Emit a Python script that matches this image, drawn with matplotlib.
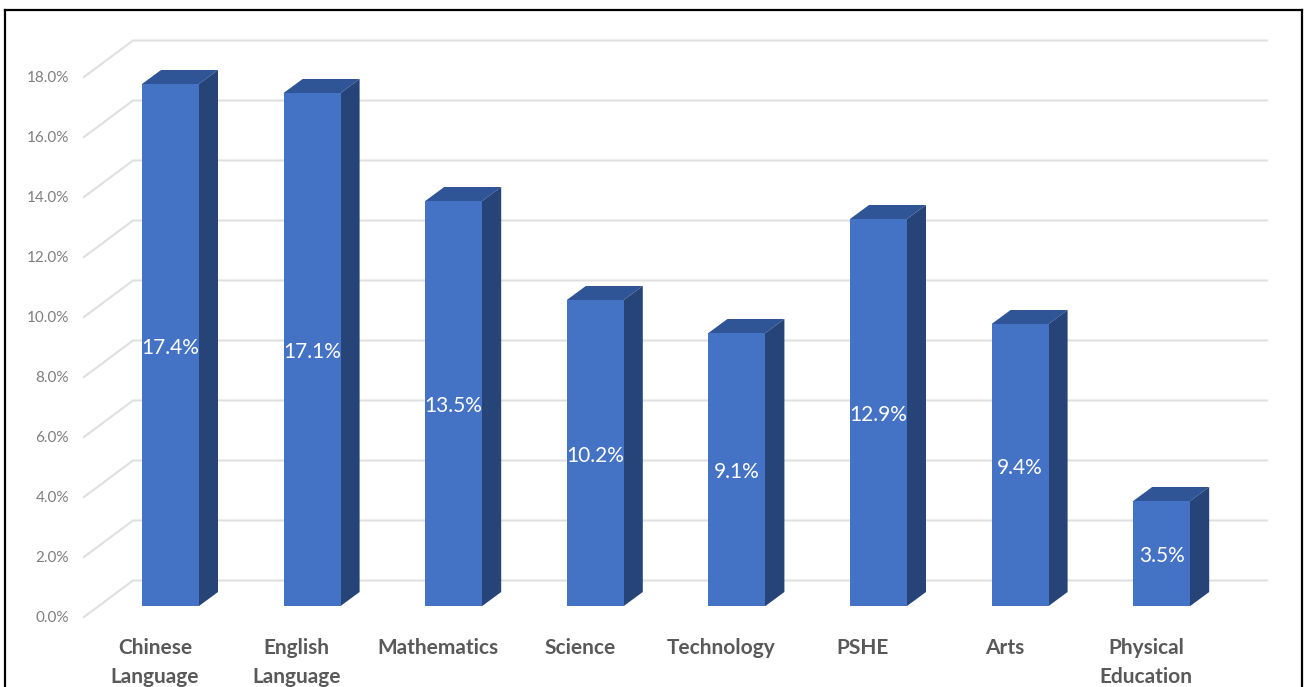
import numpy as np
import matplotlib
matplotlib.use("Agg")
import matplotlib.pyplot as plt
from matplotlib.lines import Line2D
from matplotlib.patches import Polygon

categories = [
    "Chinese\nLanguage",
    "English\nLanguage",
    "Mathematics",
    "Science",
    "Technology",
    "PSHE",
    "Arts",
    "Physical\nEducation",
]
values = [17.4, 17.1, 13.5, 10.2, 9.1, 12.9, 9.4, 3.5]
value_labels = ["17.4%", "17.1%", "13.5%", "10.2%", "9.1%", "12.9%", "9.4%", "3.5%"]
ticks = [0, 2, 4, 6, 8, 10, 12, 14, 16, 18]

W, H = 1305, 687
# pixel scale of the data axes
px_x = 141.6
px_y = 30.0
x0_px, y0_px = 170.5, 606.0

FRONT = "#4472C4"
TOP = "#2F5597"
SIDE = "#264478"
GRID = "#E0E0E0"

plt.rcParams["font.family"] = ["Lato", "DejaVu Sans"]

fig = plt.figure(figsize=(W / 100, H / 100), dpi=100, facecolor="white")
ax = fig.add_axes([0, 0, 1, 1])
ax.set_xlim(-x0_px / px_x, (W - x0_px) / px_x)
ax.set_ylim((y0_px - H) / px_y, y0_px / px_y)
ax.axis("off")

bar_w = 57 / px_x
bar_dx = 19 / px_x
bar_dy = 14 / px_y

# back wall gridlines and their slanted floor runs
grid_left = (84 - x0_px) / px_x
grid_back = (133 - x0_px) / px_x
grid_right = (1267 - x0_px) / px_x
for t in ticks:
    ax.plot(
        [grid_left, grid_back, grid_right],
        [t - 11 / px_y, t + 25.5 / px_y, t + 25.5 / px_y],
        color=GRID,
        lw=1.5,
        zorder=1,
        solid_joinstyle="miter",
    )
    ax.text(
        (69 - x0_px) / px_x,
        t - 11 / px_y,
        f"{t:.1f}%",
        ha="right",
        va="center_baseline",
        fontsize=11,
        color="#7F7F7F",
    )

xs = np.arange(len(values))
ax.bar(xs, values, width=bar_w, color=FRONT, zorder=3)
for x, v, lab, cat in zip(xs, values, value_labels, categories):
    l, r = x - bar_w / 2, x + bar_w / 2
    overlap = 1 / px_x
    ax.add_patch(
        Polygon(
            [(l, v), (r, v), (r + bar_dx, v + bar_dy), (l + bar_dx, v + bar_dy)],
            closed=True,
            facecolor=TOP,
            edgecolor="none",
            zorder=2.5,
        )
    )
    ax.add_patch(
        Polygon(
            [
                (r - overlap, 0),
                (r, 0),
                (r + bar_dx, bar_dy),
                (r + bar_dx, v + bar_dy),
                (r, v),
                (r - overlap, v),
            ],
            closed=True,
            facecolor=SIDE,
            edgecolor="none",
            zorder=2.6,
        )
    )
    ax.text(
        x,
        v / 2 - 1 / px_y,
        lab,
        ha="center",
        va="center_baseline",
        fontsize=15,
        color="white",
        zorder=4,
    )
    ax.text(
        x - 15.5 / px_x,
        (y0_px - 638) / px_y,
        cat,
        ha="center",
        va="top",
        fontsize=15,
        fontweight="bold",
        color="#595959",
        linespacing=1.55,
    )

# black picture frame, open at the bottom
for xy in [
    ([5.5, 5.5], [H, 9.5]),
    ([5.5, 1301.5], [9.5, 9.5]),
    ([1301.5, 1301.5], [9.5, H]),
]:
    fig.add_artist(
        Line2D(
            [p / W for p in xy[0]],
            [1 - p / H for p in xy[1]],
            color="black",
            lw=1.6,
        )
    )

fig.savefig("out.png", dpi=100)
